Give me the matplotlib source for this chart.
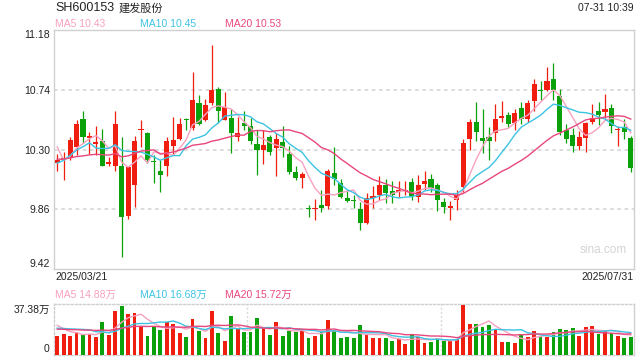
import numpy as np
import pandas as pd
import matplotlib
matplotlib.use('Agg')
import matplotlib.pyplot as plt

plt.rcParams['font.family'] = ['Liberation Sans', 'Noto Sans CJK SC', 'DejaVu Sans']
plt.rcParams['axes.unicode_minus'] = False

C_UP    = '#F01E0E'
C_DOWN  = '#0BA10B'
C_MA5   = '#F7A1C0'
C_MA10  = '#3CC3E2'
C_MA20  = '#E8477D'
C_TEXT  = '#222222'
C_GRID  = '#D9D9D9'
C_FRAME = '#D0D0D0'

# daily OHLC, 2025/03/21 .. 2025/07/31
opens = [10.20, 10.225, 10.245, 10.32, 10.525, 10.385, 10.34, 10.36, 10.19, 10.175,
         10.175, 9.81, 10.04, 10.44, 10.42, 10.215, 10.14, 10.175, 10.325, 10.38,
         10.525, 10.455, 10.64, 10.52, 10.64, 10.745, 10.52, 10.53, 10.395, 10.495,
         10.47, 10.34, 10.30, 10.39, 10.31, 10.355, 10.27, 10.135, 10.093, 9.865,
         9.865, 9.89, 9.885, 10.13, 10.05, 9.94, 9.925, 9.865, 9.76, 9.94,
         9.965, 10.04, 9.995, 9.985, 9.995, 10.06, 9.948, 10.045, 10.085, 10.04,
         9.915, 9.87, 9.925, 10.025, 10.38, 10.50, 10.385, 10.39, 10.42, 10.535,
         10.555, 10.493, 10.603, 10.522, 10.66, 10.735, 10.738, 10.82, 10.695, 10.443,
         10.407, 10.325, 10.387, 10.505, 10.584, 10.578, 10.604, 10.445, 10.463, 10.387]
highs = [10.27, 10.28, 10.39, 10.52, 10.585, 10.43, 10.47, 10.45, 10.245, 10.585,
         10.39, 10.18, 10.40, 10.52, 10.43, 10.26, 10.225, 10.395, 10.54, 10.53,
         10.535, 10.87, 10.70, 10.67, 11.07, 10.76, 10.725, 10.595, 10.54, 10.585,
         10.53, 10.44, 10.44, 10.41, 10.42, 10.47, 10.325, 10.175, 10.135, 9.89,
         9.935, 10.0, 10.16, 10.32, 10.08, 10.0, 9.965, 9.91, 9.98, 10.03,
         10.105, 10.08, 10.065, 10.065, 10.065, 10.09, 10.11, 10.145, 10.12, 10.055,
         9.94, 9.92, 10.0, 10.38, 10.525, 10.65, 10.60, 10.465, 10.635, 10.655,
         10.575, 10.595, 10.652, 10.665, 10.817, 10.805, 10.91, 10.94, 10.745, 10.49,
         10.456, 10.437, 10.505, 10.635, 10.648, 10.71, 10.635, 10.473, 10.525, 10.40]
lows = [10.14, 10.075, 10.22, 10.26, 10.345, 10.27, 10.26, 10.175, 10.18, 10.145,
        9.51, 9.79, 9.88, 10.32, 10.20, 10.055, 9.99, 10.105, 10.27, 10.37,
        10.44, 10.445, 10.48, 10.51, 10.63, 10.495, 10.515, 10.275, 10.36, 10.445,
        10.34, 10.115, 10.19, 10.26, 10.105, 10.245, 10.12, 10.075, 10.015, 9.80,
        9.78, 9.84, 9.86, 10.035, 9.94, 9.91, 9.87, 9.71, 9.75, 9.87,
        9.925, 9.905, 9.905, 9.95, 9.965, 9.93, 9.915, 10.0, 9.99, 9.85,
        9.835, 9.78, 9.855, 9.99, 10.30, 10.36, 10.275, 10.22, 10.36, 10.50,
        10.465, 10.445, 10.486, 10.505, 10.58, 10.665, 10.73, 10.665, 10.407, 10.345,
        10.283, 10.30, 10.283, 10.488, 10.48, 10.53, 10.424, 10.325, 10.375, 10.137]
closes = [10.22, 10.24, 10.37, 10.49, 10.395, 10.40, 10.355, 10.18, 10.21, 10.49,
          9.80, 10.17, 10.36, 10.45, 10.225, 10.21, 10.115, 10.36, 10.37, 10.49,
          10.52, 10.665, 10.49, 10.63, 10.74, 10.58, 10.615, 10.425, 10.42, 10.475,
          10.365, 10.30, 10.33, 10.285, 10.38, 10.31, 10.135, 10.09, 10.12, 9.86,
          9.87, 9.87, 10.14, 10.083, 9.948, 9.92, 9.92, 9.76, 9.94, 9.96,
          10.04, 9.98, 9.965, 10.0, 10.005, 9.955, 10.04, 10.065, 10.02, 9.925,
          9.88, 9.885, 9.965, 10.345, 10.50, 10.43, 10.365, 10.36, 10.525, 10.545,
          10.485, 10.567, 10.522, 10.64, 10.78, 10.733, 10.805, 10.738, 10.43, 10.375,
          10.325, 10.395, 10.493, 10.53, 10.555, 10.598, 10.473, 10.45, 10.432, 10.162]
# volume, 万手
volumes = [13.9, 15.5, 13.9, 17.3, 14.7, 15.5, 13.2, 24.2, 14.7, 32.5,
           36.9, 30.4, 31.2, 21.1, 13.9, 21.1, 18.6, 24.2, 23.0, 16.5,
           13.2, 27.1, 17.8, 12.6, 32.5, 16.5, 10.1, 28.9, 19.4, 17.3,
           17.3, 27.9, 19.9, 14.7, 24.8, 13.9, 17.8, 17.3, 17.8, 12.6,
           13.9, 17.3, 26.3, 18.6, 12.6, 13.4, 12.6, 22.4, 14.7, 12.6,
           12.6, 12.6, 10.3, 11.4, 8.0, 15.5, 13.4, 8.7, 9.5, 12.6,
           10.3, 10.8, 11.4, 37.38, 23.2, 23.2, 20.4, 22.4, 18.6, 9.5,
           9.5, 8.7, 14.7, 13.4, 17.8, 13.4, 13.4, 17.3, 19.4, 18.6,
           19.9, 13.9, 20.4, 21.7, 15.5, 17.8, 16.0, 13.9, 12.6, 13.4]
# sessions before the first visible bar (only feed the moving averages)
closes_before = [10.20, 10.22, 10.28, 10.30, 10.25, 10.27, 10.24, 10.26, 10.28, 10.26,
                 10.04, 10.00, 10.10, 10.15, 10.11, 10.74, 10.22, 10.19, 10.23]
volumes_before = [17, 19, 18, 20, 16, 19, 18, 20, 17, 19,
                  18, 17, 19, 17, 18, 28, 25, 21.5, 21.6]

# legend readouts as printed on the chart
ma_price_last = [10.43, 10.45, 10.53]
ma_vol_last = [14.88, 16.68, 15.72]

date_first, date_last = '2025/03/21', '2025/07/31'
stamp = '07-31 10:39'
code_name, stock_name = 'SH600153', '建发股份'
price_ticks = [9.42, 9.86, 10.30, 10.74, 11.18]
vol_top_label = 37.38
ma_windows = [5, 10, 20]
ma_colors = [C_MA5, C_MA10, C_MA20]

n = len(closes)
x = np.arange(n)
o, h, l, c = map(np.array, (opens, highs, lows, closes))
up = c >= o
colors = np.where(up, C_UP, C_DOWN)

close_all = pd.Series(closes_before + closes)
vol_all = pd.Series(volumes_before + volumes)
k = len(closes_before)
ma_price = [close_all.rolling(w).mean().to_numpy()[k:] for w in ma_windows]
ma_vol = [vol_all.rolling(w).mean().to_numpy()[k:] for w in ma_windows]

W, H = 640, 360
fig = plt.figure(figsize=(6.4, 3.6), dpi=100)
fig.patch.set_facecolor('white')

def fx(px): return px / W
def fy(py): return 1 - py / H

ax = fig.add_axes([fx(54), fy(269), fx(634) - fx(54), fy(30) - fy(269)])
axv = fig.add_axes([fx(54), fy(354.5), fx(634) - fx(54), fy(304.3) - fy(354.5)])

# ---- price panel
for yv in price_ticks[1:-1]:
    ax.axhline(yv, color=C_GRID, lw=1.3, ls=(0, (2, 2)), zorder=0)
body_lo = np.minimum(o, c)
body_h = np.maximum(np.abs(c - o), 0.006)
ax.vlines(x, l, h, colors=colors, lw=0.9, zorder=2)
ax.bar(x, body_h, bottom=body_lo, width=0.78, color=colors, lw=0, zorder=3)
for ma, col in zip(ma_price, ma_colors):
    ax.plot(x, ma, color=col, lw=1.0, zorder=4)

ax.set_xlim(-0.5, n - 0.5)
ax.set_ylim(price_ticks[0], price_ticks[-1])
ax.set_xticks([])
ax.set_yticks(price_ticks)
ax.set_yticklabels([f'{t:.2f}' for t in price_ticks], fontsize=7.5, color=C_TEXT)
labs = ax.get_yticklabels()
labs[0].set_va('bottom'); labs[-1].set_va('top')
ax.tick_params(axis='y', length=0, pad=3)
for s in ax.spines.values():
    s.set_color(C_FRAME); s.set_linewidth(1.0)
ax.text(0.987, 0.08, 'sina.com', transform=ax.transAxes, ha='right', va='center',
        fontsize=8.5, color='#D4D4D4')

# ---- volume panel
axv.bar(x, volumes, width=0.57, color=colors, lw=0, zorder=3)
for ma, col in zip(ma_vol, ma_colors):
    axv.plot(x, ma, color=col, lw=1.0, zorder=4)
for xv in (29.5, 59.5):
    axv.axvline(xv, color=C_GRID, lw=1.0, ls=(0, (1.5, 1.5)), zorder=0)
axv.set_xlim(-0.5, n - 0.5)
axv.set_ylim(0, 37.9)
axv.set_xticks([])
axv.set_yticks([0, vol_top_label])
axv.set_yticklabels(['0', f'{vol_top_label:.2f}万'], fontsize=7.5, color=C_TEXT)
vl = axv.get_yticklabels()
vl[0].set_va('bottom'); vl[1].set_va('top')
axv.tick_params(axis='y', length=0, pad=3)
for name, s in axv.spines.items():
    s.set_color(C_FRAME); s.set_linewidth(1.0)
    if name != 'right':
        s.set_linestyle((0, (1.5, 1.5)))

# ---- header / legends / dates
fig.text(fx(55), fy(8), code_name, fontsize=9, color=C_TEXT, va='center')
fig.text(fx(118.5), fy(8), stock_name, fontsize=8, color=C_TEXT, va='center')
fig.text(fx(634), fy(8), stamp, fontsize=7.5, color=C_TEXT, va='center', ha='right')
for (w, v, col, xp) in zip(ma_windows, ma_price_last, ma_colors, (55, 140, 225)):
    fig.text(fx(xp), fy(24), f'MA{w} {v:.2f}', fontsize=7.5, color=col, va='center')
for (w, v, col, xp) in zip(ma_windows, ma_vol_last, ma_colors, (55, 140, 225)):
    fig.text(fx(xp), fy(295), f'MA{w} {v:.2f}万', fontsize=7.5, color=col, va='center')
fig.text(fx(55), fy(277.5), date_first, fontsize=7.5, color=C_TEXT, va='center')
fig.text(fx(634), fy(277.5), date_last, fontsize=7.5, color=C_TEXT, va='center', ha='right')

fig.savefig('out.png', dpi=100, facecolor='white')
